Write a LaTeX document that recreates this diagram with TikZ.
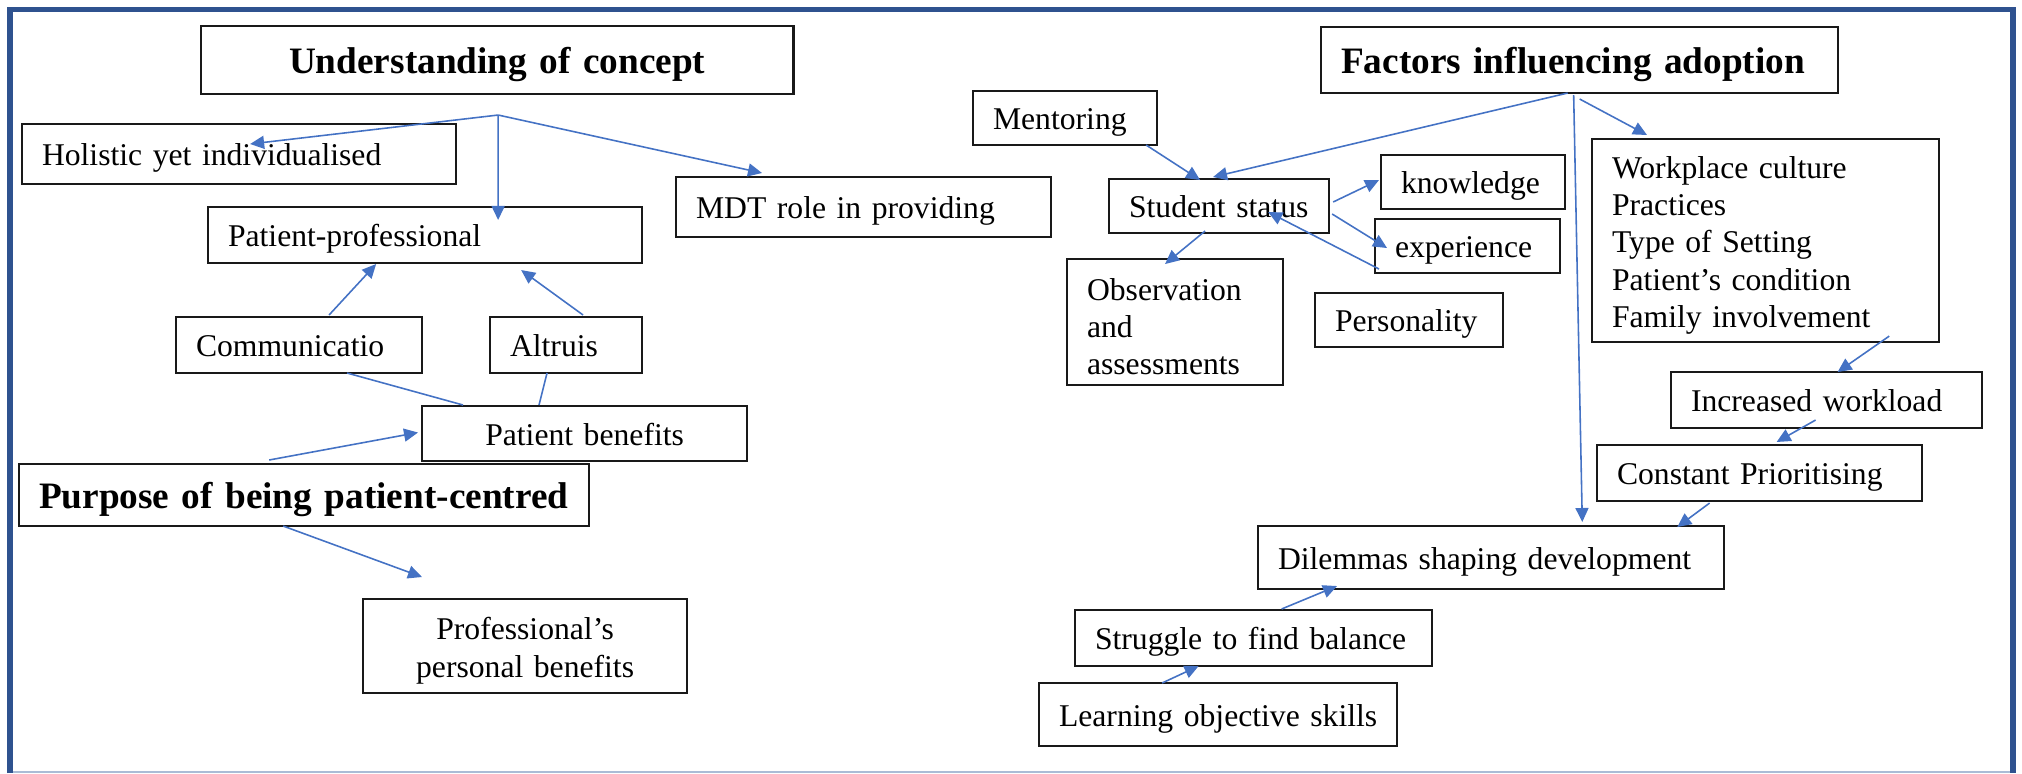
\documentclass[tikz,border=0pt]{standalone}
\usepackage{fontspec}
\setmainfont{Liberation Serif}
\usetikzlibrary{arrows.meta}
\definecolor{frameblue}{RGB}{47,82,143}
\definecolor{linkblue}{RGB}{68,114,196}
\definecolor{edgeblue}{RGB}{170,188,214}
\newcommand{\padtop}{\rule{0pt}{9pt}}
\tikzset{
  box/.style={draw=black!90, line width=0.65pt, inner xsep=0.2cm, inner ysep=0pt, outer sep=0pt,
    anchor=north west, align=left, font=\fontsize{9}{10.6}\selectfont},
  onebox/.style={box, text height=7.6pt, text depth=0.9pt},
  headbox/.style={onebox, font=\fontsize{10.6}{12.5}\selectfont\bfseries, text height=8.7pt, text depth=1.2pt},
  feeds/.style={linkblue, line width=0.45pt, -{Triangle[length=0.14cm,width=0.13cm]}},
  tie/.style={linkblue, line width=0.45pt}
}
\begin{document}
\begin{tikzpicture}[x=0.01cm, y=-0.01cm]
    \useasboundingbox (0,0) rectangle (2022,773);
    \draw[edgeblue, line width=0.6pt] (8,772) -- (2016,772);
    \draw[frameblue, line width=1.45pt] (10,773) -- (10,9.5) -- (2013,9.5) -- (2013,773);

    \node[headbox, align=center, text width=5.52cm, minimum height=0.68cm] (concept) at (201,26) {Understanding of concept};
    \node[onebox, text width=3.94cm, minimum height=0.60cm] (holistic) at (22,124) {Holistic yet individualised};
    \node[onebox, text width=3.94cm, minimum height=0.56cm] (patprof) at (208,207) {Patient-professional};
    \node[onebox, text width=3.35cm, minimum height=0.60cm] (mdt) at (676,177) {MDT role in providing};
    \node[onebox, text width=2.06cm, minimum height=0.56cm] (comm) at (176,317) {Communicatio};
    \node[onebox, text width=1.12cm, minimum height=0.56cm] (altru) at (490,317) {Altruis};
    \node[onebox, align=center, text width=2.85cm, minimum height=0.55cm] (ptben) at (422,406) {Patient benefits};
    \node[headbox, text width=5.30cm, minimum height=0.62cm] (purpose) at (19,464) {Purpose of being patient-centred};
    \node[box, align=center, text width=2.84cm, minimum height=0.94cm] (profben) at (363,599) {\padtop Professional’s\\personal benefits};

    \node[onebox, text width=1.44cm, minimum height=0.54cm] (mentor) at (973,91) {Mentoring};
    \node[headbox, text width=4.77cm, minimum height=0.66cm] (factors) at (1321,27) {Factors influencing adoption};
    \node[onebox, text width=1.80cm, minimum height=0.54cm] (student) at (1109,179) {Student status};
    \node[onebox, text width=1.44cm, minimum height=0.54cm] (knowl) at (1381,155) {knowledge};
    \node[onebox, text width=1.45cm, minimum height=0.54cm] (exper) at (1375,219) {experience};
    \node[box, text width=1.76cm, minimum height=1.26cm] (observ) at (1067,259) {\padtop Observation\\and\\assessments};
    \node[onebox, text width=1.48cm, minimum height=0.54cm] (person) at (1315,293) {Personality};
    \node[box, text width=3.07cm, minimum height=2.03cm] (workpl) at (1592,139) {\padtop Workplace culture\\Practices\\Type of Setting\\Patient’s condition\\Family involvement};
    \node[onebox, text width=2.71cm, minimum height=0.56cm] (incr) at (1671,372) {Increased workload};
    \node[onebox, text width=2.85cm, minimum height=0.56cm] (prior) at (1597,445) {Constant Prioritising};
    \node[onebox, text width=4.26cm, minimum height=0.63cm] (dilem) at (1258,526) {Dilemmas shaping development};
    \node[onebox, text width=3.17cm, minimum height=0.56cm] (struggle) at (1075,610) {Struggle to find balance};
    \node[onebox, text width=3.18cm, minimum height=0.63cm] (learn) at (1039,683) {Learning objective skills};

    \coordinate (ucfork) at ([shift={(1,21)}]concept.south);
    \draw[feeds] (ucfork) -- ([shift={(11,20)}]holistic.north);
    \draw[feeds] (ucfork) -- ([shift={(73,13)}]patprof.north);
    \draw[feeds] (ucfork) -- ([shift={(86,-4)}]mdt.north west);
    \draw[feeds] ([shift={(30,-2)}]comm.north) -- ([shift={(-49,1)}]patprof.south);
    \draw[feeds] ([shift={(17,-2)}]altru.north) -- ([shift={(96,7)}]patprof.south);
    \draw[tie] ([shift={(48,0)}]comm.south) -- ([shift={(41,-1)}]ptben.north west);
    \draw[tie] ([shift={(-19,0)}]altru.south) -- ([shift={(117,-1)}]ptben.north west);
    \draw[feeds] ([shift={(-35,-4)}]purpose.north) -- ([shift={(-4,-1)}]ptben.west);
    \draw[feeds] ([shift={(-21,0)}]purpose.south) -- ([shift={(59,-22)}]profben.north west);

    \draw[feeds] ([shift={(-11,0)}]mentor.south east) -- ([shift={(-19,1)}]student.north);
    \draw[feeds] ([shift={(-12,0)}]factors.south) -- ([shift={(-6,-2)}]student.north);
    \draw[feeds] ([shift={(4,-4)}]student.east) -- ([shift={(-2,-2)}]knowl.west);
    \draw[feeds] ([shift={(3,8)}]student.east) -- ([shift={(12,2)}]exper.west);
    \draw[feeds] ([shift={(4,-4)}]exper.south west) -- ([shift={(-61,6)}]student.east);
    \draw[feeds] ([shift={(-14,-2)}]student.south) -- ([shift={(-10,5)}]observ.north);
    \draw[feeds] ([shift={(0,6)}]factors.south) -- ([shift={(55,-4)}]workpl.north west);
    \draw[feeds] ([shift={(-6,2)}]factors.south) -- ([shift={(-142,-4)}]dilem.north east);
    \draw[feeds] ([shift={(-50,-6)}]workpl.south east) -- ([shift={(11,0)}]incr.north);
    \draw[feeds] ([shift={(-11,-8)}]incr.south) -- ([shift={(17,-3)}]prior.north);
    \draw[feeds] ([shift={(-50,2)}]prior.south) -- ([shift={(-47,1)}]dilem.north east);
    \draw[feeds] ([shift={(28,-1)}]struggle.north) -- ([shift={(79,-3)}]dilem.south west);
    \draw[feeds] ([shift={(-56,0)}]learn.north) -- ([shift={(-55,0)}]struggle.south);
\end{tikzpicture}
\end{document}
